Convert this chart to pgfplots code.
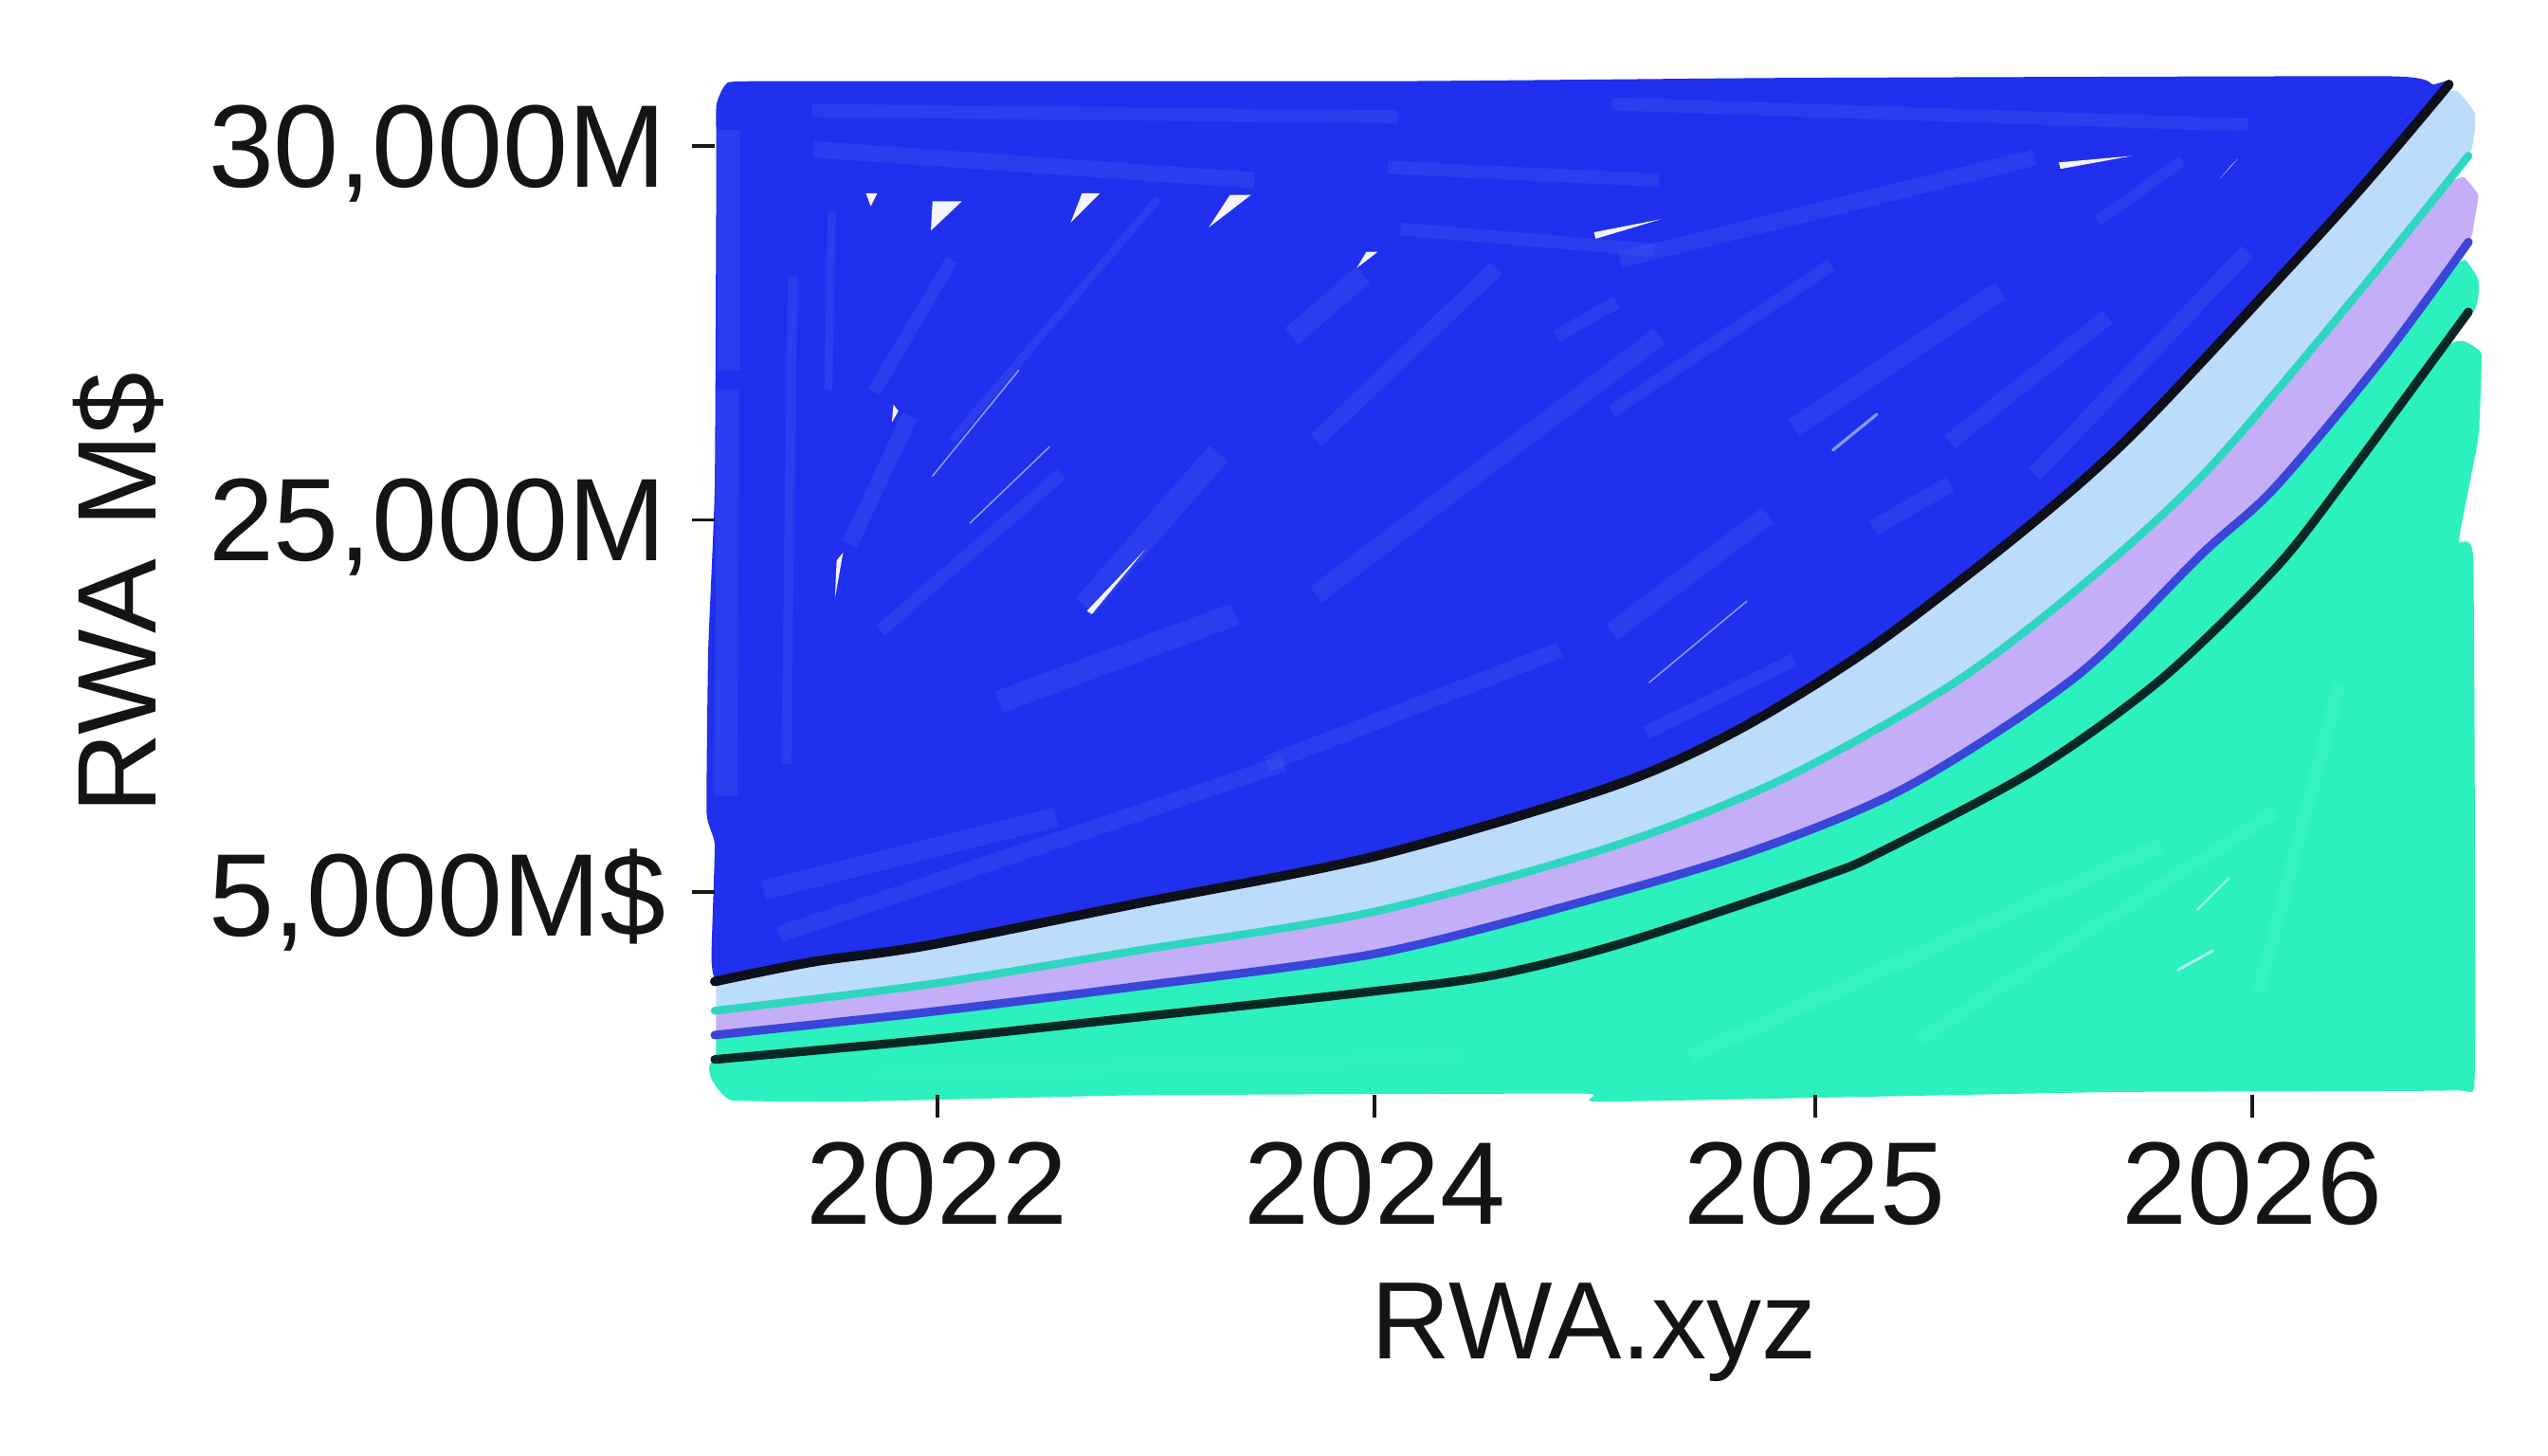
\documentclass[border=0pt]{standalone}
\usepackage{fontspec}
\setmainfont{Liberation Sans}
\usepackage{pgfplots}
\pgfplotsset{compat=1.18}
\definecolor{cblue}{RGB}{32,48,238}
\definecolor{cblueL}{RGB}{70,88,238}
\definecolor{clight}{RGB}{187,220,250}
\definecolor{cpurple}{RGB}{197,174,248}
\definecolor{cteal}{RGB}{44,240,190}
\definecolor{ctealL}{RGB}{70,243,205}
\definecolor{ctealline}{RGB}{46,214,192}
\definecolor{cblueline}{RGB}{58,70,216}
\definecolor{cdark}{RGB}{14,16,26}
\definecolor{cdarkg}{RGB}{8,40,38}
\pgfplotsset{
  st/.style={cblueL,line width=#1*0.857pt,opacity=.33},
  sp/.style={fill=white,draw=none,smooth cycle,tension=0,opacity=.95},
  sl/.style={white,line width=#1,opacity=.5,line cap=round},
}
\begin{document}
\begin{tikzpicture}
\path[use as bounding box] (0,0) rectangle (1344pt,768pt);
\begin{axis}[
  at={(377pt,190.3pt)}, anchor=south west,
  scale only axis, width=927.6pt, height=534.9pt,
  xmin=440, xmax=1522, ymin=50, ymax=674, y dir=reverse,
  clip=false, axis on top,
  axis line style={draw=none},
  tick align=outside, major tick length=12pt,
  tick style={black!90,line width=1.8pt},
  xtick pos=lower, ytick pos=left,
  xtick={577,846,1117,1386}, xticklabels={2022,2024,2025,2026},
  ytick={90,320,549}, yticklabels={30{,}000M,25{,}000M,5{,}000M\$},
  tick label style={font=\fontsize{62}{62}\selectfont, text=black!92, inner sep=0pt},
  x tick label style={yshift=-12.5pt},
  y tick label style={xshift=-13.5pt,yshift=-4pt},
  xlabel={RWA.xyz}, ylabel={RWA M\$},
  every axis x label/.style={at={(axis cs:981,820)}, anchor=center, font=\fontsize{58}{58}\selectfont, text=black!92},
  every axis y label/.style={at={(axis cs:73,365)}, anchor=center, rotate=90, font=\fontsize{59}{59}\selectfont, text=black!92},
]
% blue region
\addplot[fill=cblue,draw=none,smooth cycle,tension=0.25] coordinates {
 (447,52)(470,50)(860,50)(1100,48)(1470,47)(1497,52)(1507,52)(1444,126)(1334,245)(1226,342)(1148,401)(1070,449)(992,484)(846,527)(700,556)(570,582)(500,592)(443,604)(438,590)(440,520)(435,500)(436,400)(440,300)(441,100)(441,65)};
% lighter strokes in the blue
\addplot[st=14] coordinates {(449,80)(449,228)};
\addplot[st=14] coordinates {(448,240)(447,490)};
\addplot[st=6] coordinates {(488,170)(484,470)};
\addplot[st=8] coordinates {(538,241)(586,160)};
\addplot[st=10] coordinates {(523,335)(560,256)};
\addplot[st=5] coordinates {(512,130)(510,240)};
\addplot[st=15] coordinates {(668,373)(750,279)};
\addplot[st=13] coordinates {(795,207)(839,169)};
\addplot[st=10] coordinates {(810,271)(921,165)};
\addplot[st=8] coordinates {(958,207)(995,186)};
\addplot[st=10] coordinates {(501,92)(772,111)};
\addplot[st=8] coordinates {(862,141)(1018,154)};
\addplot[st=8] coordinates {(854,103)(1021,111)};
\addplot[st=5] coordinates {(586,271)(713,122)};
\addplot[st=12] coordinates {(810,366)(1021,207)};
\addplot[st=8] coordinates {(542,388)(653,292)};
\addplot[st=12] coordinates {(992,389)(1088,317)};
\addplot[st=10] coordinates {(1153,325)(1200,298)};
\addplot[st=8] coordinates {(1013,451)(1104,406)};
\addplot[st=12] coordinates {(1104,263)(1231,179)};
\addplot[st=10] coordinates {(1200,272)(1297,195)};
\addplot[st=8] coordinates {(992,253)(1127,163)};
\addplot[st=10] coordinates {(997,160)(1252,97)};
\addplot[st=8] coordinates {(992,64)(1383,77)};
\addplot[st=7] coordinates {(1291,136)(1343,99)};
\addplot[st=10] coordinates {(1252,292)(1383,155)};
\addplot[st=14] coordinates {(615,432)(760,378)};
\addplot[st=12] coordinates {(470,548)(650,503)};
\addplot[st=10] coordinates {(480,575)(790,470)};
\addplot[st=10] coordinates {(780,470)(960,400)};
\addplot[st=8] coordinates {(500,68)(860,72)};
% white specks
\addplot[sp] coordinates {(533,119)(540,119)(536,127)};
\addplot[sp] coordinates {(574,124)(592,124)(573,142)};
\addplot[sp] coordinates {(666,119)(677,119)(659,137)};
\addplot[sp] coordinates {(757,120)(770,120)(744,140)};
\addplot[sp] coordinates {(841,155)(848,155)(835,165)};
\addplot[sp] coordinates {(981,143)(1022,135)(982,147)};
\addplot[sp] coordinates {(1267,100)(1312,96)(1268,104)};
\addplot[sp] coordinates {(1372,103)(1377,98)(1366,110)};
\addplot[sp] coordinates {(550,249)(553,253)(549,260)};
\addplot[sp] coordinates {(515,345)(519,340)(514,368)};
\addplot[sp] coordinates {(669,376)(705,338)(672,378)};
\addplot[sl=1.6pt] coordinates {(1128,277)(1155,255)};
\addplot[sl=.8pt] coordinates {(574,293)(627,228)};
\addplot[sl=.8pt] coordinates {(597,322)(646,275)};
\addplot[sl=.8pt] coordinates {(1015,420)(1075,370)};
% bands
\addplot[fill=clight,draw=none,smooth cycle,tension=0.2] coordinates {
 (441,604)(446,603)(500,592)(570,582)(700,556)(846,527)(992,484)(1070,449)(1148,401)(1226,342)(1286,292)(1334,245)(1444,126)(1500,60)(1512,56)(1523,70)(1519,96)(1444,189)(1356,292)(1278,363)(1200,422)(1096,480)(992,521)(846,561)(700,585)(570,606)(446,623)(441,624)};
\addplot[fill=cpurple,draw=none,smooth cycle,tension=0.2] coordinates {
 (441,622)(446,621)(570,606)(700,585)(846,561)(992,521)(1096,480)(1200,422)(1278,363)(1356,292)(1444,189)(1505,115)(1516,109)(1525,120)(1522,140)(1519,149)(1466,221)(1400,300)(1356,340)(1278,416)(1174,484)(1078,524)(970,556)(846,587)(700,607)(570,623)(446,637)(441,638)};
\addplot[fill=cteal,draw=none,smooth cycle,tension=0.2] coordinates {
 (441,637)(446,636)(570,623)(700,607)(846,587)(970,556)(1078,524)(1174,484)(1278,416)(1356,340)(1400,300)(1466,221)(1508,166)(1517,160)(1525,172)(1522,192)(1444,294)(1400,350)(1330,418)(1252,474)(1158,524)(1120,540)(1000,580)(920,600)(846,610)(700,626)(570,640)(446,652)(441,653)};
\addplot[fill=cteal,draw=none,smooth cycle,tension=0.2] coordinates {
 (441,652)(570,640)(700,626)(846,610)(920,600)(1000,580)(1120,540)(1158,524)(1252,474)(1330,418)(1400,350)(1444,294)(1505,214)(1516,210)(1527,218)(1525,270)(1513,333)(1522,344)(1523,660)(1510,671)(1300,672)(985,678)(975,673)(700,674)(520,678)(450,677)(438,664)};
% lighter strokes in the green
\addplot[ctealL,line width=8pt,opacity=.35] coordinates {(1040,650)(1330,520)};
\addplot[ctealL,line width=7pt,opacity=.35] coordinates {(1180,640)(1400,500)};
\addplot[ctealL,line width=7pt,opacity=.35] coordinates {(1390,610)(1440,420)};
\addplot[ctealL,line width=7pt,opacity=.3] coordinates {(540,662)(900,650)};
\addplot[white,line width=1.5pt,opacity=.6] coordinates {(1340,597)(1362,585)};
\addplot[white,line width=1.5pt,opacity=.4] coordinates {(1352,560)(1372,540)};
% curves
\addplot[cdark,line width=5pt,smooth,line cap=round] coordinates {
 (440,604)(500,592)(570,582)(700,556)(846,527)(992,484)(1070,449)(1148,401)(1226,342)(1286,292)(1334,245)(1444,126)(1507,52)};
\addplot[ctealline,line width=4.2pt,smooth,line cap=round] coordinates {
 (440,622)(570,606)(700,585)(846,561)(992,521)(1096,480)(1200,422)(1278,363)(1356,292)(1444,189)(1519,96)};
\addplot[cblueline,line width=4.5pt,smooth,line cap=round] coordinates {
 (440,637)(570,623)(700,607)(846,587)(970,556)(1078,524)(1174,484)(1278,416)(1356,340)(1400,300)(1466,221)(1519,149)};
\addplot[cdarkg,line width=4.6pt,smooth,line cap=round] coordinates {
 (440,652)(570,640)(700,626)(846,610)(920,600)(1000,580)(1120,540)(1158,524)(1252,474)(1330,418)(1400,350)(1444,294)(1519,192)};
\end{axis}
\end{tikzpicture}
\end{document}
